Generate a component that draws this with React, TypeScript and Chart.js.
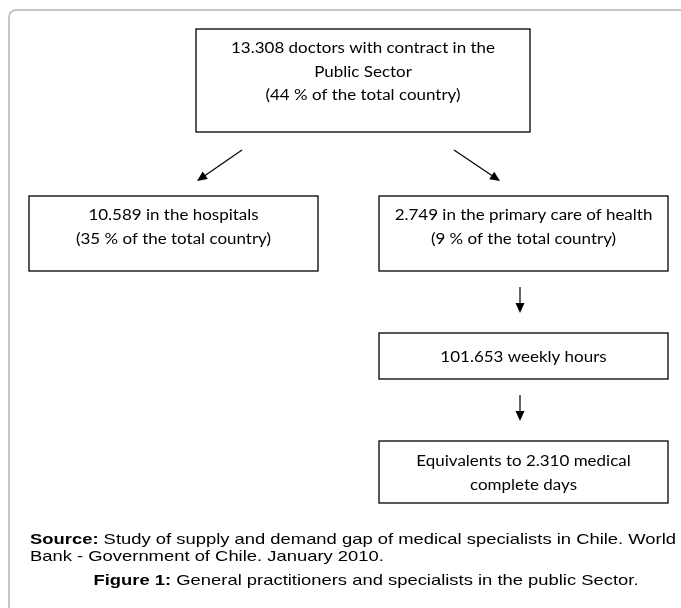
import React, { useEffect, useRef } from 'react';
import { Chart, registerables } from 'chart.js';

Chart.register(...registerables);

// ---- Content (text of the flow chart) ----
const topLines = ['13.308 doctors with contract in the', 'Public Sector', '(44 % of the total country)'];
const hospitalLines = ['10.589 in the hospitals', '(35 % of the total country)'];
const primaryLines = ['2.749 in the primary care of health', '(9 % of the total country)'];
const hoursLines = ['101.653 weekly hours'];
const daysLines = ['Equivalents to 2.310 medical', 'complete days'];
const sourceLabel = 'Source:';
const sourceLines = [' Study of supply and demand gap of medical specialists in Chile. World', 'Bank - Government of Chile. January 2010.'];
const captionLabel = 'Figure 1:';
const captionText = ' General practitioners and specialists in the public Sector.';

// ---- Layout (in scale units, x: 0..681, y: 0..608) ----
const W = 681;
const H = 608;
const boxLayout = [
  { lines: topLines, x0: 196, x1: 530, y0: 29, y1: 132, ty: [48, 72, 95] },
  { lines: hospitalLines, x0: 29, x1: 318, y0: 196, y1: 271, ty: [215, 239] },
  { lines: primaryLines, x0: 379, x1: 668, y0: 196, y1: 271, ty: [215, 239] },
  { lines: hoursLines, x0: 379, x1: 668, y0: 333, y1: 379, ty: [357] },
  { lines: daysLines, x0: 379, x1: 668, y0: 441, y1: 503, ty: [461, 485] },
];
const arrowLayout = [
  { x0: 242, y0: 150, x1: 197, y1: 181 },
  { x0: 454, y0: 150, x1: 500, y1: 181 },
  { x0: 520, y0: 287, x1: 520, y1: 313 },
  { x0: 520, y0: 395, x1: 520, y1: 421 },
];
const boxTextTargetWidth = 264; // width of the first line of the top box
const sourceTargetWidth = 646;
const sourceX = 30;
const sourceY = [540, 557];
const captionCX = 366;
const captionY = 581;
const boxFont = '14.5px Lato, "Open Sans", sans-serif';
const srcSize = 14.5;

const flowPlugin = {
  id: 'flowchart',
  afterDraw(chart: any) {
    const ctx: CanvasRenderingContext2D = chart.ctx;
    const xs = chart.scales.x;
    const ys = chart.scales.y;
    const px = (v: number) => xs.getPixelForValue(v);
    const py = (v: number) => ys.getPixelForValue(v);

    ctx.save();
    // outer frame (top-left rounded corner)
    ctx.strokeStyle = '#b4b4b4';
    ctx.lineWidth = 1.5;
    const r = 8;
    ctx.beginPath();
    ctx.moveTo(px(9), py(H));
    ctx.lineTo(px(9), py(10 + r));
    ctx.quadraticCurveTo(px(9), py(10), px(9 + r), py(10));
    ctx.lineTo(px(W), py(10));
    ctx.stroke();

    // box text scale
    ctx.font = boxFont;
    const bsx = boxTextTargetWidth / ctx.measureText(topLines[0]).width;

    ctx.fillStyle = '#000';
    ctx.strokeStyle = '#000';
    ctx.textBaseline = 'middle';
    ctx.textAlign = 'center';
    for (const b of boxLayout) {
      ctx.lineWidth = 1.3;
      ctx.strokeRect(px(b.x0), py(b.y0), px(b.x1) - px(b.x0), py(b.y1) - py(b.y0));
      const cx = (px(b.x0) + px(b.x1)) / 2;
      b.lines.forEach((t, i) => {
        ctx.save();
        ctx.font = boxFont;
        ctx.translate(cx, py(b.ty[i]));
        ctx.scale(bsx, 1);
        ctx.fillText(t, 0, 0);
        ctx.restore();
      });
    }

    // arrows
    for (const a of arrowLayout) {
      const x0 = px(a.x0), y0 = py(a.y0), x1 = px(a.x1), y1 = py(a.y1);
      const ang = Math.atan2(y1 - y0, x1 - x0);
      const L = 10, hw = 4.5;
      ctx.lineWidth = 1.2;
      ctx.beginPath();
      ctx.moveTo(x0, y0);
      ctx.lineTo(x1 - Math.cos(ang) * L * 0.8, y1 - Math.sin(ang) * L * 0.8);
      ctx.stroke();
      ctx.beginPath();
      ctx.moveTo(x1, y1);
      ctx.lineTo(x1 - Math.cos(ang) * L - Math.sin(ang) * hw, y1 - Math.sin(ang) * L + Math.cos(ang) * hw);
      ctx.lineTo(x1 - Math.cos(ang) * L + Math.sin(ang) * hw, y1 - Math.sin(ang) * L - Math.cos(ang) * hw);
      ctx.closePath();
      ctx.fill();
    }

    // source text
    const boldF = `bold ${srcSize}px "Liberation Sans", Arial, sans-serif`;
    const regF = `${srcSize}px "Liberation Sans", Arial, sans-serif`;
    ctx.font = boldF;
    const wb = ctx.measureText(sourceLabel).width;
    ctx.font = regF;
    const wr = ctx.measureText(sourceLines[0]).width;
    const ssx = sourceTargetWidth / (wb + wr);
    ctx.textAlign = 'left';
    ctx.save();
    ctx.translate(px(sourceX), py(sourceY[0]));
    ctx.scale(ssx, 1);
    ctx.font = boldF;
    ctx.fillText(sourceLabel, 0, 0);
    ctx.font = regF;
    ctx.fillText(sourceLines[0], wb, 0);
    ctx.restore();
    ctx.save();
    ctx.translate(px(sourceX), py(sourceY[1]));
    ctx.scale(ssx, 1);
    ctx.font = regF;
    ctx.fillText(sourceLines[1], 0, 0);
    ctx.restore();

    // caption
    ctx.font = boldF;
    const cb = ctx.measureText(captionLabel).width;
    ctx.font = regF;
    const cr = ctx.measureText(captionText).width;
    ctx.save();
    ctx.translate(px(captionCX) - ((cb + cr) * ssx) / 2, py(captionY));
    ctx.scale(ssx, 1);
    ctx.font = boldF;
    ctx.fillText(captionLabel, 0, 0);
    ctx.font = regF;
    ctx.fillText(captionText, cb, 0);
    ctx.restore();

    ctx.restore();
  },
};

export default function App() {
  const ref = useRef<HTMLCanvasElement | null>(null);
  useEffect(() => {
    if (!ref.current) return;
    const chart = new Chart(ref.current, {
      type: 'scatter',
      data: { datasets: [{ data: [], pointRadius: 0 }] },
      options: {
        animation: false,
        responsive: false,
        layout: { padding: 0 },
        plugins: { legend: { display: false }, tooltip: { enabled: false }, title: { display: false } },
        scales: {
          x: { type: 'linear', min: 0, max: W, display: false },
          y: { type: 'linear', min: 0, max: H, reverse: true, display: false },
        },
      },
      plugins: [flowPlugin],
    });
    return () => chart.destroy();
  }, []);
  return (
    <div style={{ position: 'absolute', left: 0, top: 0, width: W, height: H, background: '#fff' }}>
      <canvas ref={ref} width={W} height={H} style={{ display: 'block' }} />
    </div>
  );
}
